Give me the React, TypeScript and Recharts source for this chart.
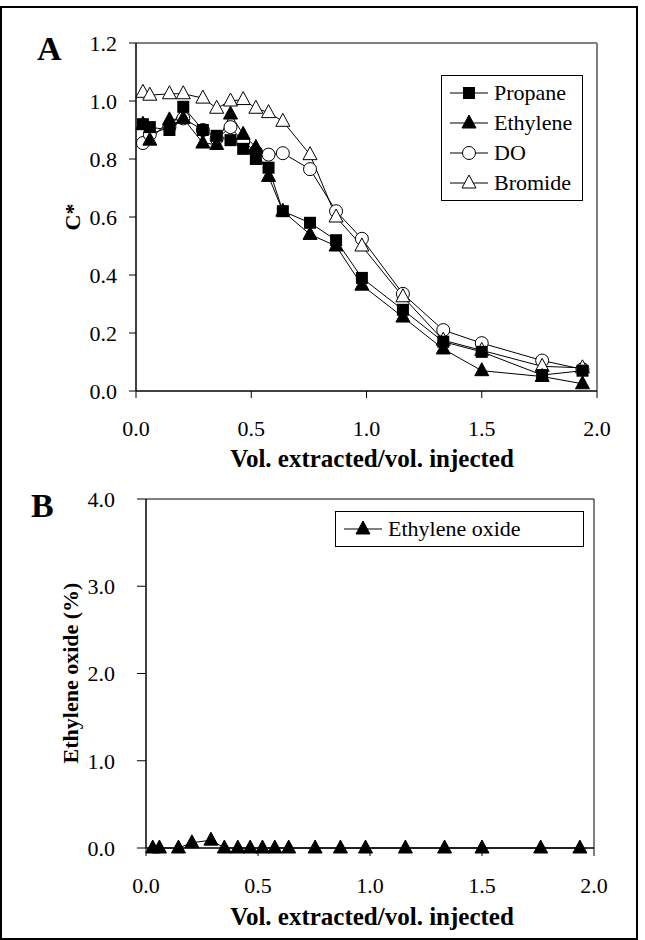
import React from "react"
import { LineChart, Line, XAxis, YAxis, ReferenceLine, Legend } from "recharts"

const FONT = "'Liberation Serif', 'Times New Roman', serif"

// x: volume extracted / volume injected (same sampling for both panels)
const VOL_RATIO = [0.03, 0.06, 0.145, 0.205, 0.29, 0.35, 0.41, 0.465, 0.52, 0.575, 0.637, 0.755, 0.868, 0.98, 1.158, 1.333, 1.5, 1.762, 1.937]

// panel A, relative concentration C*
const PROPANE = [0.92, 0.91, 0.9, 0.98, 0.9, 0.88, 0.865, 0.835, 0.8, 0.77, 0.62, 0.58, 0.52, 0.39, 0.28, 0.17, 0.135, 0.055, 0.07]
const ETHYLENE = [0.92, 0.865, 0.935, 0.94, 0.855, 0.85, 0.955, 0.885, 0.84, 0.74, 0.62, 0.54, 0.5, 0.365, 0.255, 0.145, 0.07, 0.05, 0.025]
const DO = [0.855, 0.885, 0.91, 0.94, 0.9, 0.87, 0.91, 0.86, 0.825, 0.815, 0.82, 0.765, 0.62, 0.525, 0.335, 0.21, 0.165, 0.105, 0.075]
const BROMIDE = [1.03, 1.02, 1.025, 1.025, 1.01, 0.975, 1.0, 1.005, 0.975, 0.96, 0.93, 0.815, 0.6, 0.5, 0.325, 0.175, 0.14, 0.085, 0.08]

// panel B, ethylene oxide (%)
const ETHYLENE_OXIDE = [0, 0, 0, 0.06, 0.09, 0, 0, 0, 0, 0, 0, 0, 0, 0, 0, 0, 0, 0, 0]

const X_TICKS = [0, 0.5, 1, 1.5, 2]
const Y_TICKS_A = [0, 0.2, 0.4, 0.6, 0.8, 1.0, 1.2]
const Y_TICKS_B = [0, 1, 2, 3, 4]

const dataA = VOL_RATIO.map((x, i) => ({
  x,
  propane: PROPANE[i],
  ethylene: ETHYLENE[i],
  do: DO[i],
  bromide: BROMIDE[i],
}))
const dataB = VOL_RATIO.map((x, i) => ({ x, eo: ETHYLENE_OXIDE[i] }))

type Shape = "square" | "triangle" | "circle" | "openTriangle"

function Marker({ cx, cy, shape }: { cx?: number; cy?: number; shape: Shape }) {
  if (cx == null || cy == null) return null
  if (shape === "square") return <rect x={cx - 6} y={cy - 6} width={12} height={12} fill="#000" />
  if (shape === "circle") return <circle cx={cx} cy={cy} r={6.5} fill="#fff" stroke="#000" strokeWidth={1} />
  const pts = `${cx},${cy - 8} ${cx + 7},${cy + 5} ${cx - 7},${cy + 5}`
  if (shape === "triangle") return <polygon points={pts} fill="#000" stroke="#000" strokeWidth={1} />
  return <polygon points={pts} fill="#fff" stroke="#000" strokeWidth={1} />
}

const dotOf = (shape: Shape, name: string) => (p: any) => (
  <Marker key={`${name}-${p.index}`} cx={p.cx} cy={p.cy} shape={shape} />
)

function LegendBox({ items, width }: { items: { label: string; shape: Shape }[]; width: number }) {
  return (
    <div style={{ width, border: "1px solid #000", background: "#fff", padding: "2px 0", boxSizing: "border-box" }}>
      {items.map((it) => (
        <div key={it.label} style={{ display: "flex", alignItems: "center", height: 30 }}>
          <svg width={46} height={30} style={{ flex: "none", marginLeft: 6 }}>
            <line x1={2} y1={15} x2={40} y2={15} stroke="#000" strokeWidth={1} />
            <Marker cx={21} cy={15} shape={it.shape} />
          </svg>
          <span style={{ fontFamily: FONT, fontSize: 22, color: "#000", whiteSpace: "nowrap" }}>{it.label}</span>
        </div>
      ))}
    </div>
  )
}

const tickStyle = { fontSize: 22, fill: "#000", fontFamily: FONT }

export default function App() {
  return (
    <div style={{ position: "absolute", left: 0, top: 0, width: 645, height: 940, background: "#fff", fontFamily: FONT }}>
      {/* Panel A */}
      <div style={{ position: "absolute", left: 0, top: 0 }}>
        <LineChart width={645} height={480} data={dataA} margin={{ top: 43, right: 48, left: 0, bottom: 0 }}>
          <XAxis
            dataKey="x"
            type="number"
            domain={[0, 2]}
            ticks={X_TICKS}
            tickFormatter={(v: number) => v.toFixed(1)}
            height={89}
            tick={tickStyle}
            tickSize={7}
            tickMargin={22}
            axisLine={{ stroke: "#000", strokeWidth: 1.5 }}
            tickLine={{ stroke: "#000" }}
          />
          <YAxis
            type="number"
            domain={[0, 1.2]}
            ticks={Y_TICKS_A}
            tickFormatter={(v: number) => v.toFixed(1)}
            width={136}
            tick={tickStyle}
            tickSize={7}
            tickMargin={12}
            axisLine={{ stroke: "#000", strokeWidth: 1.5 }}
            tickLine={{ stroke: "#000" }}
          />
          <ReferenceLine y={1.2} stroke="#808080" strokeWidth={2} />
          <ReferenceLine x={2} stroke="#808080" strokeWidth={2} />
          <Legend
            layout="horizontal"
            verticalAlign="middle"
            align="center"
            wrapperStyle={{ left: 441, top: 75, width: 142 }}
            content={() => (
              <LegendBox
                width={142}
                items={[
                  { label: "Propane", shape: "square" },
                  { label: "Ethylene", shape: "triangle" },
                  { label: "DO", shape: "circle" },
                  { label: "Bromide", shape: "openTriangle" },
                ]}
              />
            )}
          />
          <Line dataKey="do" name="DO" stroke="#000" strokeWidth={1} isAnimationActive={false} dot={dotOf("circle", "do")} />
          <Line dataKey="bromide" name="Bromide" stroke="#000" strokeWidth={1} isAnimationActive={false} dot={dotOf("openTriangle", "br")} />
          <Line dataKey="ethylene" name="Ethylene" stroke="#000" strokeWidth={1} isAnimationActive={false} dot={dotOf("triangle", "et")} />
          <Line dataKey="propane" name="Propane" stroke="#000" strokeWidth={1} isAnimationActive={false} dot={dotOf("square", "pr")} />
        </LineChart>
      </div>

      {/* Panel B */}
      <div style={{ position: "absolute", left: 0, top: 460 }}>
        <LineChart width={645} height={480} data={dataB} margin={{ top: 39, right: 51, left: 0, bottom: 0 }}>
          <XAxis
            dataKey="x"
            type="number"
            domain={[0, 2]}
            ticks={X_TICKS}
            tickFormatter={(v: number) => v.toFixed(1)}
            height={92}
            tick={tickStyle}
            tickSize={8}
            tickMargin={21}
            axisLine={{ stroke: "#000", strokeWidth: 1.5 }}
            tickLine={{ stroke: "#000" }}
          />
          <YAxis
            type="number"
            domain={[0, 4]}
            ticks={Y_TICKS_B}
            tickFormatter={(v: number) => v.toFixed(1)}
            width={146}
            tick={tickStyle}
            tickSize={9}
            tickMargin={22}
            axisLine={{ stroke: "#000", strokeWidth: 1.5 }}
            tickLine={{ stroke: "#000" }}
          />
          <ReferenceLine y={4} stroke="#808080" strokeWidth={2} />
          <ReferenceLine x={2} stroke="#000" strokeWidth={1} />
          <Legend
            layout="horizontal"
            verticalAlign="middle"
            align="center"
            wrapperStyle={{ left: 335, top: 51, width: 249 }}
            content={() => <LegendBox width={249} items={[{ label: "Ethylene oxide", shape: "triangle" }]} />}
          />
          <Line dataKey="eo" name="Ethylene oxide" stroke="#000" strokeWidth={1} isAnimationActive={false} dot={dotOf("triangle", "eo")} />
        </LineChart>
      </div>

      {/* titles and panel letters */}
      <svg width={645} height={940} style={{ position: "absolute", left: 0, top: 0, pointerEvents: "none" }}>
        <text x={37} y={60} fontFamily={FONT} fontWeight="bold" fontSize={34}>A</text>
        <text x={31} y={517} fontFamily={FONT} fontWeight="bold" fontSize={34}>B</text>
        <text x={72} y={217} transform="rotate(-90 72 217)" textAnchor="middle" dominantBaseline="central" fontFamily={FONT} fontWeight="bold" fontSize={22}>C*</text>
        <text x={70} y={673} transform="rotate(-90 70 673)" textAnchor="middle" dominantBaseline="central" fontFamily={FONT} fontWeight="bold" fontSize={22}>Ethylene oxide (%)</text>
        <text x={372} y={458} textAnchor="middle" dominantBaseline="central" fontFamily={FONT} fontWeight="bold" fontSize={25}>Vol. extracted/vol. injected</text>
        <text x={372} y={916} textAnchor="middle" dominantBaseline="central" fontFamily={FONT} fontWeight="bold" fontSize={25}>Vol. extracted/vol. injected</text>
      </svg>

      {/* outer frame */}
      <div style={{ position: "absolute", left: 0, top: 6, width: 638, height: 934, border: "2px solid #000", boxSizing: "border-box", pointerEvents: "none" }} />
    </div>
  )
}
